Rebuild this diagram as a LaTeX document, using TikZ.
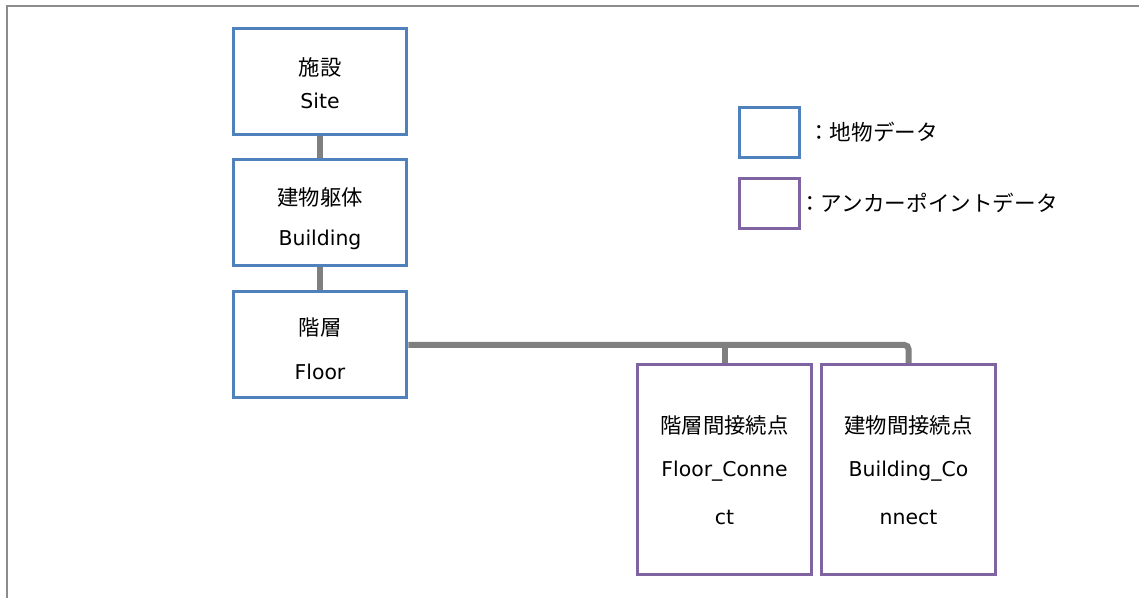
\documentclass[tikz,border=0pt]{standalone}
\usepackage{fontspec}
\setmainfont{DejaVu Sans}
\newfontfamily\jpf{Noto Sans CJK JP}
\newcommand{\jp}{\jpf\fontsize{16}{19}\selectfont}
\definecolor{bblue}{HTML}{4F81BD}
\definecolor{bpurp}{HTML}{8064A2}
\definecolor{cgray}{HTML}{7F7F7F}
\definecolor{fgray}{HTML}{8C8C8C}
\begin{document}
\begin{tikzpicture}[x=0.75pt,y=-0.75pt,
  feat/.style={draw=bblue,line width=2.25pt,fill=white,minimum width=173.5*0.75pt,minimum height=106*0.75pt,inner sep=0pt},
  anch/.style={draw=bpurp,line width=2.25pt,fill=white,minimum width=174*0.75pt,minimum height=210*0.75pt,inner sep=0pt},
  legf/.style={draw=bblue,line width=2.25pt,minimum width=60*0.75pt,minimum height=50*0.75pt,inner sep=0pt},
  lega/.style={draw=bpurp,line width=2.25pt,minimum width=60*0.75pt,minimum height=50*0.75pt,inner sep=0pt},
  conn/.style={draw=cgray,line width=4.5pt},
  txt/.style={font=\fontsize{15.3}{18}\selectfont,inner sep=0pt,anchor=center},
  ltxt/.style={font=\jpf\fontsize{16.2}{20}\selectfont,inner sep=0pt,anchor=west}]
\useasboundingbox (0,0) rectangle (1139,598);
\fill[white] (0,0) rectangle (1139,598);
\draw[fgray,line width=1.5pt] (7,598) -- (7,6) -- (1139,6);
% boxes
\node[feat] (site) at (320,81.5) {};
\node[feat] (bldg) at (320,212.5) {};
\node[feat] (floor) at (320,345) {};
\node[anch] (fc) at (724.5,469.5) {};
\node[anch] (bc) at (908.5,469.5) {};
% connectors
\draw[conn] (site.south) -- (bldg.north);
\draw[conn] (bldg.south) -- (floor.north);
\draw[conn,rounded corners=3pt] (floor.east) -- (bc.north |- floor.east) -- (bc.north);
\draw[conn] (fc.north |- floor.east) -- (fc.north);
% redraw box borders above connectors
\node[feat,fill=none] at (site) {};
\node[feat,fill=none] at (bldg) {};
\node[feat,fill=none] at (floor) {};
\node[anch,fill=none] at (fc) {};
\node[anch,fill=none] at (bc) {};
% texts
\node[txt] (t1) at (320,67) {\jp 施設};
\node[txt] (t2) at (320,101) {Site};
\node[txt] (t3) at (320,197) {\jp 建物躯体};
\node[txt] (t4) at (320,240) {Building};
\node[txt] (t5) at (320,328) {\jp 階層};
\node[txt] (t6) at (320,372) {Floor};
\node[txt] (t7) at (724.5,425) {\jp 階層間接続点};
\node[txt] (t8) at (724.5,471) {Floor\_Conne};
\node[txt] (t9) at (724.5,517) {ct};
\node[txt] (t10) at (908.5,425) {\jp 建物間接続点};
\node[txt] (t11) at (908.5,471) {Building\_Co};
\node[txt] (t12) at (908.5,517) {nnect};
% legend
\node[legf] (lf) at (769.5,132.5) {};
\node[lega] (la) at (769.5,203.5) {};
\node[ltxt] (lt1) at (808,132) {：地物データ};
\node[ltxt] (lt2) at (799,203) {：アンカーポイントデータ};
\end{tikzpicture}
\end{document}
